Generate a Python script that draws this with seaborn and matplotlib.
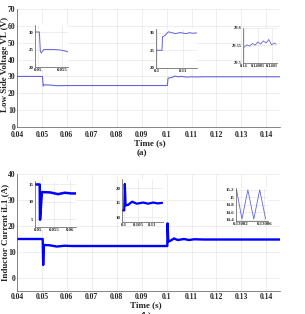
import matplotlib
matplotlib.use("Agg")
import matplotlib.pyplot as plt
from matplotlib.ticker import FormatStrFormatter
import seaborn as sns

# --- data ---
# (a) low side voltage, main trace
vl_t = [0.04, 0.0502, 0.0505, 0.0508, 0.053, 0.056, 0.06, 0.08, 0.1003, 0.1006, 0.1015,
        0.1035, 0.1045, 0.106, 0.108, 0.11, 0.112, 0.115, 0.12, 0.1455]
vl_v = [30, 30, 24.3, 25, 24.9, 24.5, 24.6, 24.6, 24.6, 29, 29.2,
        30.2, 29.8, 30, 29.6, 29.8, 29.7, 29.8, 29.8, 29.8]
# zoom 1 of (a)
vl_z1_t = [0.0494, 0.0503, 0.0505, 0.0507, 0.0512, 0.053, 0.0545, 0.0555, 0.0562]
vl_z1_v = [30, 30, 24.5, 24, 25, 25, 24.9, 24.6, 24.3]
# zoom 2 of (a)
vl_z2_t = [0.0995, 0.1018, 0.1020, 0.1030, 0.1042, 0.1055, 0.1069, 0.1088, 0.1108, 0.1123, 0.1135, 0.115]
vl_z2_v = [25, 25, 28.8, 29.2, 30.2, 30.0, 29.7, 30.0, 29.7, 29.95, 29.8, 29.9]
# zoom 3 of (a)
vl_z3_t = [0.14, 0.14001, 0.14002, 0.14003, 0.14004, 0.14005, 0.14006, 0.14007,
           0.14008, 0.14009, 0.1401, 0.14011, 0.140117]
vl_z3_v = [29.545, 29.552, 29.548, 29.556, 29.551, 29.560, 29.554, 29.563,
           29.557, 29.567, 29.552, 29.557, 29.554]

# (b) inductor current, main trace
il_t = [0.04, 0.0503, 0.0505, 0.0508, 0.053, 0.056, 0.059, 0.062, 0.08, 0.1003, 0.1004,
        0.1007, 0.1015, 0.103, 0.1045, 0.107, 0.109, 0.111, 0.115, 0.1455]
il_v = [15, 15, 5, 12.7, 12.6, 12.1, 12.4, 12.3, 12.3, 12.3, 21,
        14, 14.3, 15.2, 14.6, 15, 14.6, 14.9, 14.8, 14.8]
# zoom 1 of (b)
il_z1_t = [0.049, 0.0505, 0.0506, 0.0512, 0.0538, 0.0563, 0.0584, 0.0606, 0.062]
il_z1_v = [15, 15, 4.8, 12.8, 12.7, 12.2, 12.6, 12.4, 12.4]
# zoom 2 of (b)
il_z2_t = [0.0993, 0.1001, 0.1003, 0.1006, 0.1015, 0.1029, 0.1046, 0.1068, 0.1086, 0.1104, 0.112, 0.1136]
il_z2_v = [12.3, 12.3, 21.4, 14, 14.2, 15.3, 14.6, 15, 14.6, 15, 14.7, 14.9]
# zoom 3 of (b): switching ripple
il_z3_t = [0.130013, 0.130022, 0.130032, 0.130042, 0.130052, 0.130062]
il_z3_v = [15.2, 14.42, 15.2, 14.42, 15.2, 14.42]

sns.set_theme(style="whitegrid")
plt.rcParams['font.family'] = ['Liberation Serif', 'DejaVu Serif']
plt.rcParams['font.weight'] = 'bold'

c_a = '#6464dc'
c_b = '#0000ff'
grid_c = '#e8e8e8'

fig = plt.figure(figsize=(3.05, 3.14), dpi=100)


def style_axes(ax, fs, xpad=1):
    for s in ['top', 'right']:
        ax.spines[s].set_visible(False)
    for s in ['left', 'bottom']:
        ax.spines[s].set_color('#555555')
        ax.spines[s].set_linewidth(0.5)
    ax.grid(True, color=grid_c, lw=0.5)
    ax.tick_params(labelsize=fs, pad=1, length=0)
    ax.tick_params(axis='x', pad=xpad)
    for lab in ax.get_xticklabels() + ax.get_yticklabels():
        lab.set_fontweight('bold')
    ax.set_xlabel('')
    ax.set_ylabel('')


def trace(ax, t, v, color, lw):
    sns.lineplot(x=t, y=v, ax=ax, color=color, lw=lw, estimator=None, sort=False)


# ---------- panel (a) ----------
axa = fig.add_axes([17 / 305, 1 - 127 / 314, 263 / 305, 118 / 314])
trace(axa, vl_t, vl_v, c_a, 0.8)
axa.set_xlim(0.04, 0.1455)
axa.set_ylim(0, 70)
axa.set_xticks([0.04 + 0.01 * i for i in range(11)])
axa.set_yticks(range(0, 71, 10))
axa.xaxis.set_major_formatter(FormatStrFormatter('%g'))
style_axes(axa, 5.5, xpad=3)

ins = fig.add_axes([35 / 305, 1 - 67 / 314, 33 / 305, 42 / 314])
trace(ins, vl_z1_t, vl_z1_v, c_a, 0.7)
ins.set_xlim(0.0494, 0.0562)
ins.set_ylim(20, 32)
ins.set_xticks([0.05, 0.055])
ins.set_yticks([20, 25, 30])
ins.xaxis.set_major_formatter(FormatStrFormatter('%g'))
style_axes(ins, 3.5)

ins = fig.add_axes([156 / 305, 1 - 68 / 314, 41 / 305, 39 / 314])
trace(ins, vl_z2_t, vl_z2_v, c_a, 0.7)
ins.set_xlim(0.0995, 0.1152)
ins.set_ylim(20, 31)
ins.set_xticks([0.1, 0.11])
ins.set_yticks([20, 25, 30])
ins.xaxis.set_major_formatter(FormatStrFormatter('%g'))
style_axes(ins, 3.5)

ins = fig.add_axes([243 / 305, 1 - 63 / 314, 34 / 305, 35 / 314])
trace(ins, vl_z3_t, vl_z3_v, c_a, 0.6)
ins.set_xlim(0.139996, 0.14012)
ins.set_ylim(29.5, 29.6)
ins.set_xticks([0.14, 0.14005, 0.1401])
ins.set_xticklabels(['0.14', '0.14005', '0.1401'])
ins.set_yticks([29.5, 29.55, 29.6])
ins.set_yticklabels(['29.5', '29.55', '29.6'])
style_axes(ins, 3.2)

fig.text(150 / 305, 1 - 143 / 314, 'Time (s)', ha='center', va='center', fontsize=6.5, fontweight='bold')
fig.text(142 / 305, 1 - 153 / 314, '(a)', ha='center', va='center', fontsize=6.5)
fig.text(5 / 305, 1 - 64 / 314, 'Low Side Voltage VL (V)', rotation=90, ha='center', va='center',
         fontsize=6.5, fontweight='bold')

# ---------- panel (b) ----------
axb = fig.add_axes([17 / 305, 1 - 291 / 314, 263 / 305, 117 / 314])
trace(axb, il_t, il_v, c_b, 1.7)
axb.set_xlim(0.04, 0.1455)
axb.set_ylim(-5, 40)
axb.set_xticks([0.04 + 0.01 * i for i in range(11)])
axb.set_yticks(range(0, 41, 10))
axb.xaxis.set_major_formatter(FormatStrFormatter('%g'))
style_axes(axb, 5.5, xpad=1.5)

ins = fig.add_axes([35 / 305, 1 - 227 / 314, 41 / 305, 46 / 314])
trace(ins, il_z1_t, il_z1_v, c_b, 1.8)
ins.set_xlim(0.049, 0.062)
ins.set_ylim(2.7, 16)
ins.set_xticks([0.05, 0.055, 0.06])
ins.set_yticks([5, 10, 15])
ins.xaxis.set_major_formatter(FormatStrFormatter('%g'))
style_axes(ins, 3.5)

ins = fig.add_axes([122 / 305, 1 - 222 / 314, 41 / 305, 43 / 314])
trace(ins, il_z2_t, il_z2_v, c_b, 1.6)
ins.set_xlim(0.0993, 0.1139)
ins.set_ylim(8.3, 23.1)
ins.set_xticks([0.1, 0.105, 0.11])
ins.set_yticks([10, 15, 20])
ins.xaxis.set_major_formatter(FormatStrFormatter('%g'))
style_axes(ins, 3.5)

ins = fig.add_axes([236 / 305, 1 - 221 / 314, 32 / 305, 33 / 314])
trace(ins, il_z3_t, il_z3_v, c_a, 0.6)
ins.set_xlim(0.130012, 0.130066)
ins.set_ylim(14.37, 15.25)
ins.set_xticks([0.13002, 0.13006])
ins.set_xticklabels(['0.13002', '0.13006'])
ins.set_yticks([14.4, 14.6, 14.8, 15, 15.2])
ins.set_yticklabels(['14.4', '14.6', '14.8', '15', '15.2'])
style_axes(ins, 3.5)

fig.text(146 / 305, 1 - 305 / 314, 'Time (s)', ha='center', va='center', fontsize=6.5, fontweight='bold')
fig.text(146 / 305, 1 - 315 / 314, '(b)', ha='center', va='center', fontsize=6.5)
fig.text(5 / 305, 1 - 232 / 314, 'Inductor Current iL1 (A)', rotation=90, ha='center', va='center',
         fontsize=6.5, fontweight='bold')

fig.savefig('out.png', dpi=100)
